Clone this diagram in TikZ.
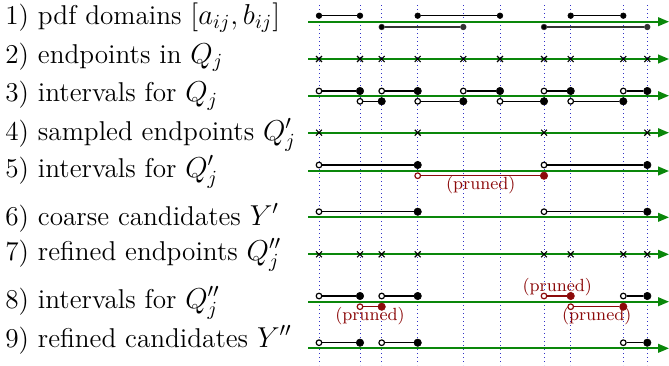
\documentclass[tikz,border=0pt]{standalone}
\usetikzlibrary{arrows.meta,shapes.misc}
\definecolor{axgreen}{RGB}{10,135,10}
\definecolor{prred}{RGB}{140,10,10}
\definecolor{gridblue}{RGB}{50,50,200}
\newcommand\ivl[7][black]{%
  \node[#6,draw=#1] (#2a) at (#3,#5) {};
  \node[#7,fill=#1,draw=#1] (#2b) at (#4,#5) {};
  \draw[ivline,draw=#1] (#2a) -- (#2b);}
\begin{document}
\begin{tikzpicture}[x=0.5pt,y=-0.5pt,
  axis/.style={draw=axgreen,line width=0.85pt,-{Triangle[length=5.5pt,width=4.4pt]}},
  vgrid/.style={draw=gridblue,dash pattern=on 0.45pt off 1.55pt,line width=0.5pt},
  ivline/.style={line width=0.7pt},
  sdot/.style={circle,fill=black,inner sep=0pt,minimum size=2.8pt,line width=0.3pt},
  fdot/.style={circle,fill=black,inner sep=0pt,minimum size=3.7pt,line width=0.3pt},
  odot/.style={circle,fill=white,inner sep=0pt,minimum size=2.8pt,line width=0.6pt},
  xmark/.style={cross out,draw=black,inner sep=0pt,minimum size=2.4pt,line width=0.55pt},
  lab/.style={anchor=base west,inner sep=0pt,font=\fontsize{13.6}{16}\selectfont},
  pr/.style={text=prred,inner sep=0pt,font=\fontsize{8.8}{10}\selectfont}]
\useasboundingbox (0,0) rectangle (669,365);
% vertical grid
\foreach \i/\x in {1/319,2/360,3/381.7,4/417.7,5/463.3,6/500,7/544,8/570.7,9/623.3,10/647.3}{
  \coordinate (gt\i) at (\x,5);
  \coordinate (gb\i) at (\x,365);
  \draw[vgrid] (gt\i) -- (gb\i);
}
% axes
\foreach \r/\y in {1/21.7,2/59,3/95.7,4/132.7,5/171,6/217.3,7/254.3,8/301.7,9/348.3}{
  \coordinate (as\r) at (308,\y);
  \coordinate (ae\r) at (669,\y);
  \draw[axis] (as\r) -- (ae\r);
}
% labels
\node[lab] (l1) at (5,24) {1) pdf domains $[a_{ij},b_{ij}]$};
\node[lab] (l2) at (5,63) {2) endpoints in $Q_j$};
\node[lab] (l3) at (5,101.7) {3) intervals for $Q_j$};
\node[lab] (l4) at (5,140) {4) sampled endpoints $Q'_j$};
\node[lab] (l5) at (5,177) {5) intervals for $Q'_j$};
\node[lab] (l6) at (5,225) {6) coarse candidates $Y'$};
\node[lab] (l7) at (5,260) {7) refined endpoints $Q''_j$};
\node[lab] (l8) at (5,308) {8) intervals for $Q''_j$};
\node[lab] (l9) at (5,347) {9) refined candidates $Y''$};
% row 1
\ivl{ra}{319}{360}{15.7}{sdot}{sdot}
\ivl{rb}{417.7}{500}{15.7}{sdot}{sdot}
\ivl{rc}{570.7}{623.3}{15.7}{sdot}{sdot}
\ivl[black!80]{rd}{381.7}{463.3}{27}{sdot,fill=black}{sdot}
\ivl[black!80]{re}{544}{647.3}{27}{sdot,fill=black}{sdot}
% row 2
\foreach \x [count=\k] in {319,360,381.7,417.7,463.3,500,544,570.7,623.3,647.3}
  \node[xmark] (xb\k) at (\x,59) {};
% row 3
\ivl{ta}{319}{360}{91}{odot}{fdot}
\ivl{tb}{381.7}{417.7}{91}{odot}{fdot}
\ivl{tc}{463.3}{500}{91}{odot}{fdot}
\ivl{td}{544}{570.7}{91}{odot}{fdot}
\ivl{te}{623.3}{647.3}{91}{odot}{fdot}
\ivl{tf}{360}{381.7}{101.3}{odot}{fdot}
\ivl{tg}{417.7}{463.3}{101.3}{odot}{fdot}
\ivl{th}{500}{544}{101.3}{odot}{fdot}
\ivl{ti}{570.7}{623.3}{101.3}{odot}{fdot}
% row 4
\foreach \x [count=\k] in {319,417.7,544,647.3}
  \node[xmark] (xd\k) at (\x,132.7) {};
% row 5
\ivl{fa}{319}{417.7}{165}{odot}{fdot}
\ivl{fb}{544}{647.3}{165}{odot}{fdot}
\ivl[prred]{fc}{417.7}{544}{175.7}{odot}{fdot}
\node[pr] (p5) at (480.8,185) {(pruned)};
% row 6
\ivl{sa}{319}{417.7}{211.7}{odot}{fdot}
\ivl{sb}{544}{647.3}{211.7}{odot}{fdot}
% row 7
\foreach \x [count=\k] in {319,360,381.7,417.7,544,570.7,623.3,647.3}
  \node[xmark] (xg\k) at (\x,254.3) {};
% row 8
\ivl{ea}{319}{360}{296}{odot}{fdot}
\ivl{eb}{381.7}{417.7}{296}{odot}{fdot}
\ivl[prred]{ec}{544}{570.7}{296}{odot}{fdot}
\ivl{ed}{623.3}{647.3}{296}{odot}{fdot}
\ivl[prred]{ee}{360}{381.7}{306.7}{odot}{fdot}
\ivl[prred]{ef}{570.7}{623.3}{306.7}{odot}{fdot}
\node[pr] (p8a) at (557.3,286.7) {(pruned)};
\node[pr] (p8b) at (370,315.7) {(pruned)};
\node[pr] (p8c) at (596.7,315.7) {(pruned)};
% row 9
\ivl{na}{319}{360}{342.7}{odot}{fdot}
\ivl{nb}{381.7}{417.7}{342.7}{odot}{fdot}
\ivl{nc}{623.3}{647.3}{342.7}{odot}{fdot}
\end{tikzpicture}
\end{document}
